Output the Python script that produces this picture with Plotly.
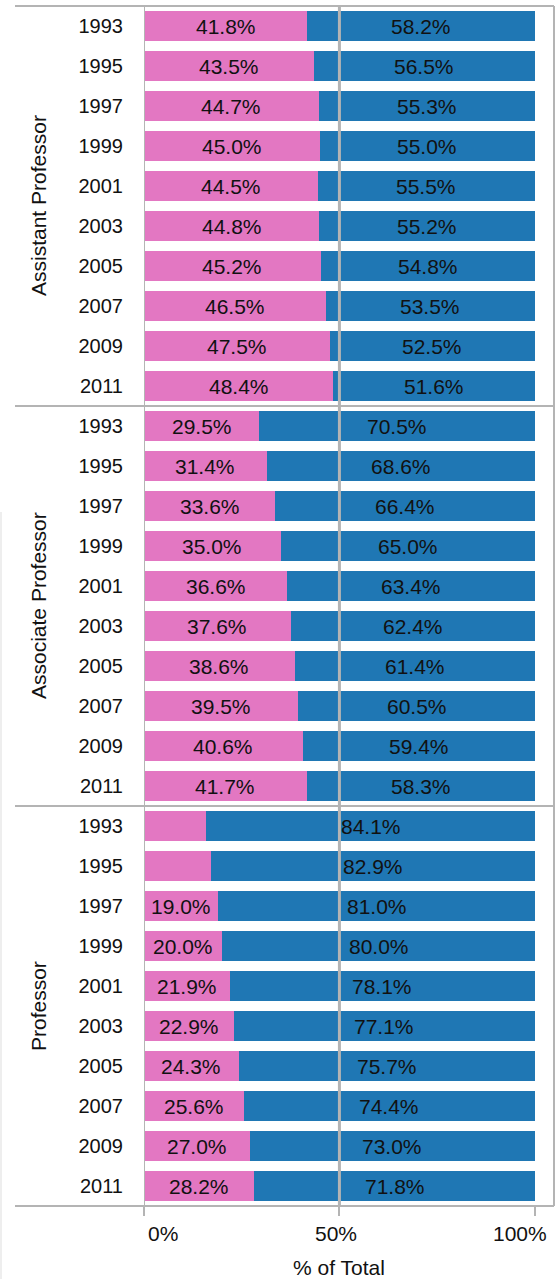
import plotly.graph_objects as go

groups = ["Assistant Professor", "Associate Professor", "Professor"]
years = ["1993", "1995", "1997", "1999", "2001", "2003", "2005", "2007", "2009", "2011"]

women_assistant = [41.8, 43.5, 44.7, 45.0, 44.5, 44.8, 45.2, 46.5, 47.5, 48.4]
men_assistant = [58.2, 56.5, 55.3, 55.0, 55.5, 55.2, 54.8, 53.5, 52.5, 51.6]
women_associate = [29.5, 31.4, 33.6, 35.0, 36.6, 37.6, 38.6, 39.5, 40.6, 41.7]
men_associate = [70.5, 68.6, 66.4, 65.0, 63.4, 62.4, 61.4, 60.5, 59.4, 58.3]
women_professor = [15.9, 17.1, 19.0, 20.0, 21.9, 22.9, 24.3, 25.6, 27.0, 28.2]
men_professor = [84.1, 82.9, 81.0, 80.0, 78.1, 77.1, 75.7, 74.4, 73.0, 71.8]

x_ticks = [0, 50, 100]
x_ticktext = ["0%", "50%", "100%"]

women = women_assistant + women_associate + women_professor
men = men_assistant + men_associate + men_professor
ypos = list(range(len(women)))
ylabels = years * len(groups)

PINK = "#e377c2"
BLUE = "#1f77b4"
GRAY = "#b4b4b4"
FONT = "Liberation Sans, Arial, sans-serif"
TXT = "#111111"

W, H = 560, 1279
L, R, T, B = 144, 6, 6, 73
PW = W - L - R
PH = H - T - B


def paper_y(px):
    return 1 - (px - T) / PH


def paper_x(px):
    return (px - L) / PW


fig = go.Figure()
fig.add_trace(go.Bar(y=ypos, x=women, orientation="h", marker=dict(color=PINK, line=dict(width=0)),
                     width=0.75, name="Women", hoverinfo="x+y"))
fig.add_trace(go.Bar(y=ypos, x=men, orientation="h", marker=dict(color=BLUE, line=dict(width=0)),
                     width=0.75, name="Men", hoverinfo="x+y"))

annotations = []
for i, (w, m) in enumerate(zip(women, men)):
    if w >= 18:
        annotations.append(dict(x=w / 2, y=i, xref="x", yref="y", text=f"{w:.1f}%", showarrow=False,
                                font=dict(size=21, color=TXT, family=FONT)))
    annotations.append(dict(x=w + m / 2, y=i, xref="x", yref="y", text=f"{m:.1f}%", showarrow=False,
                            font=dict(size=21, color=TXT, family=FONT)))

n = len(years)
for g, name in enumerate(groups):
    annotations.append(dict(x=paper_x(38), y=g * n + (n - 1) / 2, xref="paper", yref="y", text=name,
                            xanchor="center", yanchor="middle",
                            textangle=-90, showarrow=False, font=dict(size=21, color=TXT, family=FONT)))

# x tick labels (Tableau-style placement: first shifted right, last shifted left)
tick_shifts = [19, -3, -15]
for v, t, s in zip(x_ticks, x_ticktext, tick_shifts):
    annotations.append(dict(x=v, y=paper_y(1233), xref="x", yref="paper", text=t, xshift=s,
                            xanchor="center", yanchor="middle", showarrow=False,
                            font=dict(size=21, color=TXT, family=FONT)))

annotations.append(dict(x=50, y=paper_y(1267), xref="x", yref="paper", text="% of Total",
                        xanchor="center", yanchor="middle",
                        showarrow=False, font=dict(size=21, color=TXT, family=FONT)))

left_ext = paper_x(15)
shapes = [
    dict(type="line", xref="paper", yref="paper", x0=left_ext, x1=1, y0=1, y1=1, line=dict(color=GRAY, width=2)),
    dict(type="line", xref="paper", yref="paper", x0=left_ext, x1=1, y0=0, y1=0, line=dict(color=GRAY, width=2)),
    dict(type="line", xref="paper", yref="paper", x0=1, x1=1, y0=0, y1=1, line=dict(color=GRAY, width=2)),
    dict(type="line", xref="x", yref="paper", x0=0, x1=0, y0=0, y1=1, line=dict(color=GRAY, width=2)),
    dict(type="line", xref="x", yref="paper", x0=50, x1=50, y0=0, y1=1, line=dict(color=GRAY, width=3), layer="above"),
    dict(type="line", xref="paper", yref="paper", x0=paper_x(1), x1=paper_x(1),
         y0=paper_y(H), y1=paper_y(512), line=dict(color="#dddddd", width=1)),
]
for g in range(1, len(groups)):
    shapes.append(dict(type="line", xref="paper", yref="y", x0=left_ext, x1=1, y0=g * n - 0.5, y1=g * n - 0.5,
                       line=dict(color=GRAY, width=2)))

fig.update_layout(
    width=W, height=H,
    margin=dict(l=L, r=R, t=T, b=B),
    barmode="stack",
    bargap=0,
    showlegend=False,
    plot_bgcolor="white",
    paper_bgcolor="white",
    font=dict(family=FONT, size=20, color=TXT),
    annotations=annotations,
    shapes=shapes,
    xaxis=dict(range=[0, 104.9], tickvals=x_ticks, ticktext=["", "", ""], showgrid=False, zeroline=False,
               ticks="outside", ticklen=9, tickwidth=2, tickcolor=GRAY, showline=False,
               fixedrange=True),
    yaxis=dict(range=[len(women) - 0.5, -0.5], tickvals=ypos, ticktext=ylabels, showgrid=False,
               zeroline=False, ticks="", showline=False, ticklabelstandoff=20,
               tickfont=dict(size=20, color=TXT, family=FONT), fixedrange=True),
)

fig.write_html("out.html", config={"displayModeBar": False},
               post_script="document.body.style.margin='0px';document.body.style.overflow='hidden';")
